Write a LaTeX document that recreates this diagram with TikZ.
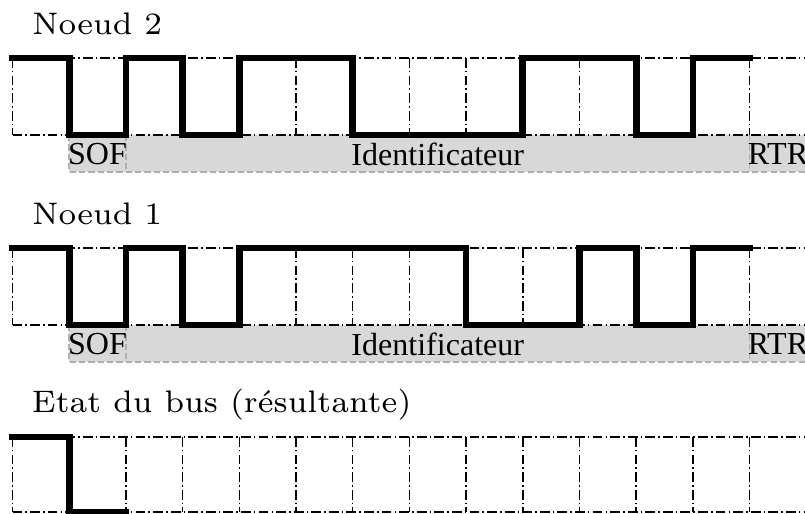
\documentclass[tikz,border=0pt]{standalone}
\usepackage{fontspec}
\newfontfamily\tms{Liberation Serif}
\definecolor{bandgray}{HTML}{D8D8D8}
\definecolor{banddash}{HTML}{B0B0B0}
\def\xo{12.5}
\def\cw{56.7}
\newcommand\xc[1]{{\xo+#1*\cw}}
\tikzset{
  gridline/.style={line width=0.35pt, dash pattern=on 2.2pt off 0.7pt on 0.35pt off 0.7pt},
  wave/.style={line width=1.5pt, line join=miter, line cap=rect},
  bandline/.style={draw=banddash, line width=0.35pt, dash pattern=on 1.4pt off 0.7pt},
  rowlabel/.style={anchor=base west, inner sep=0pt, font=\fontsize{7}{8.4}\selectfont},
  fieldlabel/.style={anchor=center, inner sep=0pt, font=\tms\fontsize{7.2}{8.6}\selectfont},
}
\begin{document}
\begin{tikzpicture}[x=0.2247pt, y=-0.2247pt]
\useasboundingbox (0,0) rectangle (805,514);
% ---- bands (rows 1 and 2)
\foreach \B/\r in {135/a, 325/b}{
  \fill[bandgray] (\xc{1},\B) rectangle (812,\B+37);
  \draw[bandline] (\xc{1},\B) -- (\xc{1},\B+37) -- (812,\B+37);
  \draw[bandline] (\xc{2},\B) -- (\xc{2},\B+37);
  \draw[bandline] (\xc{13},\B) -- (\xc{13},\B+37);
  \node[fieldlabel] (sof\r) at ({\xo+1.5*\cw},\B+19) {SOF};
  \node[fieldlabel] (id\r) at ({\xo+7.5*\cw},\B+19) {Identificateur};
  \node[fieldlabel] (rtr\r) at ({\xo+13.5*\cw},\B+19) {RTR};
}
% ---- grids
\foreach \T/\H in {58/77, 248/77, 437/75}{
  \draw[gridline] (\xc{0},\T) -- (812,\T);
  \draw[gridline] (\xc{0},\T+\H) -- (812,\T+\H);
  \foreach \i in {0,...,13}{
    \draw[gridline] (\xc{\i},\T) -- (\xc{\i},\T+\H);
  }
}
% ---- labels
\node[rowlabel] (n2) at (31.5,34.3) {Noeud 2};
\node[rowlabel] (n1) at (31.5,224.5) {Noeud 1};
\node[rowlabel] (bus) at (31,413) {Etat du bus (résultante)};
% ---- Noeud 2 waveform  1 0 1 0 1 1 0 0 0 1 1 0 1
\def\T{58}\def\B{135}
\draw[wave] (\xc{0},\T) -- (\xc{1},\T) -- (\xc{1},\B) -- (\xc{2},\B) -- (\xc{2},\T)
  -- (\xc{3},\T) -- (\xc{3},\B) -- (\xc{4},\B) -- (\xc{4},\T) -- (\xc{6},\T)
  -- (\xc{6},\B) -- (\xc{9},\B) -- (\xc{9},\T) -- (\xc{11},\T) -- (\xc{11},\B)
  -- (\xc{12},\B) -- (\xc{12},\T) -- (\xc{13},\T);
% ---- Noeud 1 waveform  1 0 1 0 1 1 1 1 0 0 1 0 1
\def\T{248}\def\B{325}
\draw[wave] (\xc{0},\T) -- (\xc{1},\T) -- (\xc{1},\B) -- (\xc{2},\B) -- (\xc{2},\T)
  -- (\xc{3},\T) -- (\xc{3},\B) -- (\xc{4},\B) -- (\xc{4},\T) -- (\xc{8},\T)
  -- (\xc{8},\B) -- (\xc{10},\B) -- (\xc{10},\T) -- (\xc{11},\T) -- (\xc{11},\B)
  -- (\xc{12},\B) -- (\xc{12},\T) -- (\xc{13},\T);
% ---- bus waveform  1 0
\def\T{437}\def\B{512}
\draw[wave] (\xc{0},\T) -- (\xc{1},\T) -- (\xc{1},\B) -- (\xc{2},\B);
\end{tikzpicture}
\end{document}
